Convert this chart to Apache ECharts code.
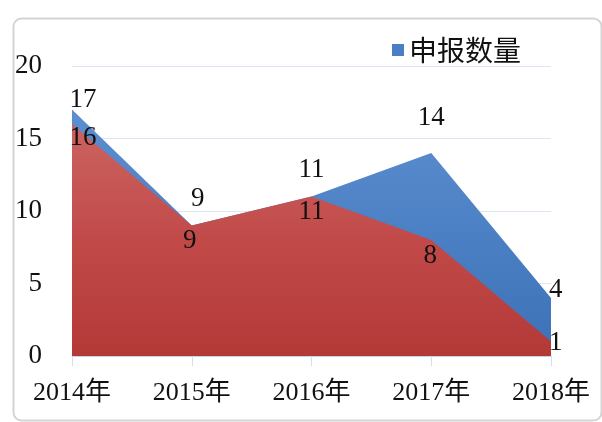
<!DOCTYPE html>
<html>
<head>
<meta charset="utf-8">
<script src="https://cdn.jsdelivr.net/npm/echarts@6/dist/echarts.min.js"></script>
<style>
  html, body { margin: 0; padding: 0; background: #fff; }
  #main { width: 602px; height: 422px; }
</style>
</head>
<body>
<div id="main"></div>
<script>
var years = ['2014年', '2015年', '2016年', '2017年', '2018年'];
var applied = [17, 9, 11, 14, 4];   // 申报数量
var approved = [16, 9, 11, 8, 1];   // second series (no legend entry)

var serif = '"Liberation Serif", "Times New Roman", "Noto Sans CJK SC", serif';

// label placement for each point, kept apart from the values
var blueLabels = [
    { position: 'top', distance: 0, offset: [11, 4] },
    { position: 'top', distance: 5, offset: [6, -8] },
    { position: 'top', distance: 5, offset: [0, -8] },
    { position: 'top', distance: 5, offset: [0, -17] },
    { position: 'right', distance: 0, offset: [-2, -8] }
];
var redLabels = [
    { position: 'bottom', distance: 0, offset: [11, 0] },
    { position: 'bottom', distance: 0, offset: [-2, 2] },
    { position: 'bottom', distance: 0, offset: [0, 2] },
    { position: 'bottom', distance: 0, offset: [-1, 2] },
    { position: 'right', distance: 0, offset: [-2, 1] }
];

function withLabels(values, labels) {
    return values.map(function (v, i) {
        return { value: v, label: labels[i] };
    });
}

var myChart = echarts.init(document.getElementById('main'));

var option = {
    animation: false,
    backgroundColor: '#fff',
    graphic: [{
        type: 'rect',
        left: 11,
        top: 16,
        shape: { width: 588, height: 402, r: 8 },
        style: { fill: 'none', stroke: '#d4d4d4', lineWidth: 2 },
        z: -10
    }],
    legend: {
        data: ['申报数量'],
        right: 76,
        top: 31,
        itemWidth: 12,
        itemHeight: 12,
        itemGap: 4,
        icon: 'rect',
        textStyle: {
            fontFamily: '"Noto Sans CJK SC", sans-serif',
            fontSize: 28,
            color: '#111'
        }
    },
    grid: {
        left: 72,
        right: 51,
        top: 66,
        bottom: 66
    },
    xAxis: {
        type: 'category',
        boundaryGap: false,
        data: years,
        axisLine: { lineStyle: { color: '#c6d4e8', width: 1 } },
        axisTick: { show: true, length: 10, lineStyle: { color: '#d3deee' } },
        axisLabel: {
            margin: 24,
            fontFamily: serif,
            fontSize: 26,
            color: '#111'
        }
    },
    yAxis: {
        type: 'value',
        min: 0,
        max: 20,
        interval: 5,
        axisLine: { show: false },
        axisTick: { show: false },
        splitLine: { lineStyle: { color: '#dce6f2', width: 1 } },
        axisLabel: {
            margin: 30,
            fontFamily: serif,
            fontSize: 27,
            color: '#111'
        }
    },
    series: [
        {
            name: '申报数量',
            type: 'line',
            data: withLabels(applied, blueLabels),
            symbol: 'circle',
            symbolSize: 0,
            itemStyle: { color: '#4a7fc4' },
            lineStyle: { opacity: 0 },
            areaStyle: {
                opacity: 1,
                color: new echarts.graphic.LinearGradient(0, 0, 0, 1, [
                    { offset: 0, color: '#5c8fd1' },
                    { offset: 1, color: '#3c71b7' }
                ])
            },
            label: {
                show: true,
                fontFamily: serif,
                fontSize: 27,
                color: '#111'
            },
            z: 2
        },
        {
            name: '核准数量',
            type: 'line',
            data: withLabels(approved, redLabels),
            symbol: 'circle',
            symbolSize: 0,
            itemStyle: { color: '#c0504d' },
            lineStyle: { opacity: 0 },
            areaStyle: {
                opacity: 1,
                color: new echarts.graphic.LinearGradient(0, 0, 0, 1, [
                    { offset: 0, color: '#cb6461' },
                    { offset: 0.5, color: '#c14a49' },
                    { offset: 1, color: '#b33937' }
                ])
            },
            label: {
                show: true,
                fontFamily: serif,
                fontSize: 27,
                color: '#111'
            },
            z: 3
        }
    ]
};

myChart.setOption(option);
</script>
</body>
</html>
